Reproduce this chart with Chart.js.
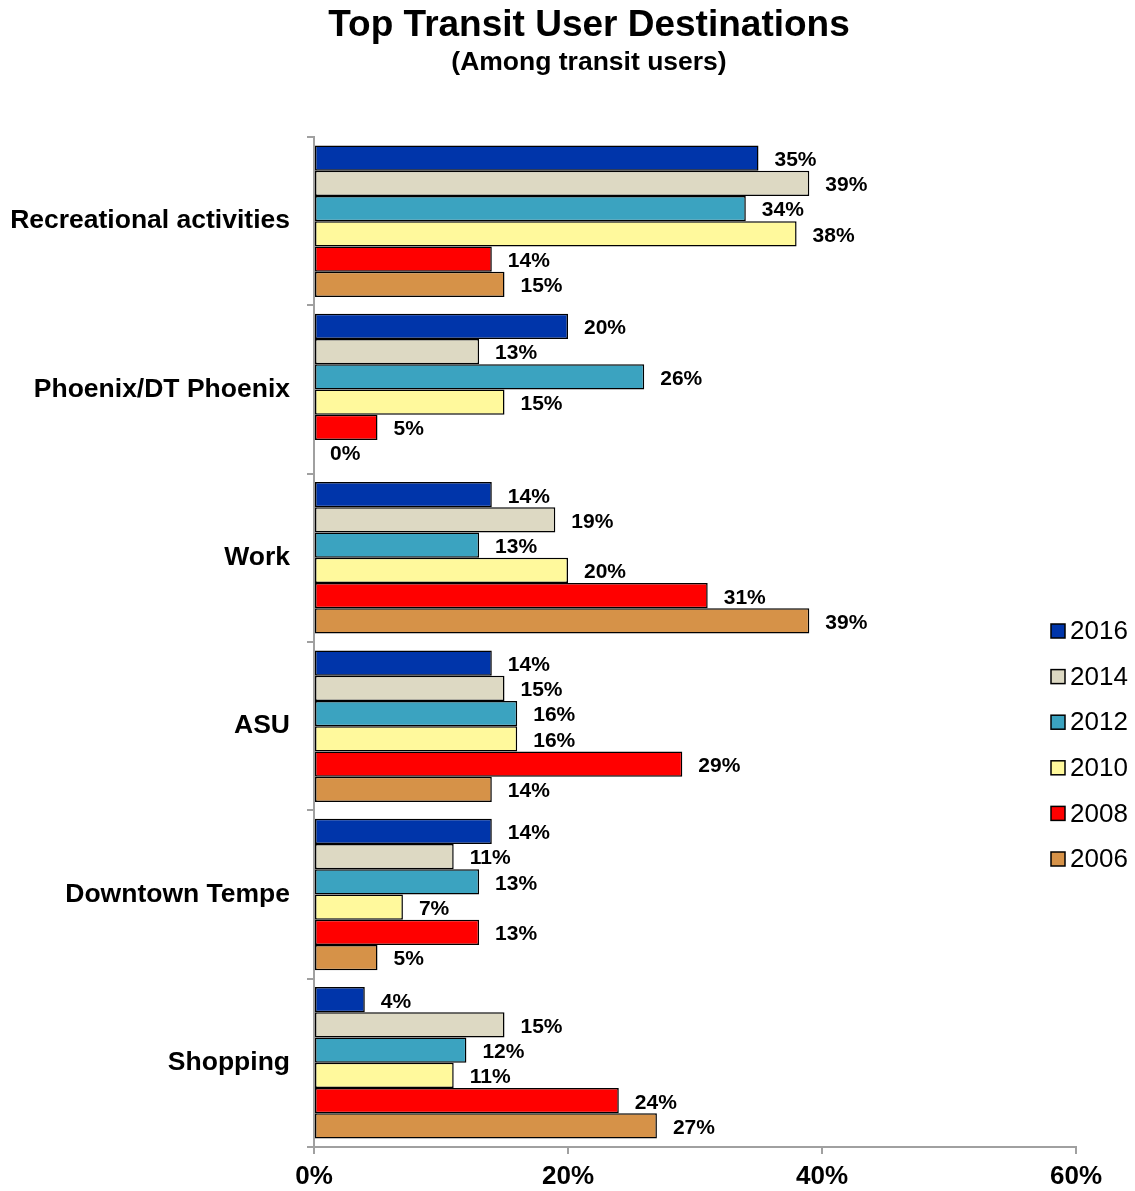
<!DOCTYPE html>
<html>
<head>
<meta charset="utf-8">
<script src="https://cdn.jsdelivr.net/npm/chart.js@4/dist/chart.umd.min.js"></script>
<style>
  html, body { margin: 0; padding: 0; background: #fff; }
  #wrap { width: 1135px; height: 1191px; }
</style>
</head>
<body>
<div id="wrap"><canvas id="destChart"></canvas></div>
<script>
const destinations = ['Recreational activities', 'Phoenix/DT Phoenix', 'Work', 'ASU', 'Downtown Tempe', 'Shopping'];
const years = ['2016', '2014', '2012', '2010', '2008', '2006'];

const pct2016 = [35, 20, 14, 14, 14, 4];
const pct2014 = [39, 13, 19, 15, 11, 15];
const pct2012 = [34, 26, 13, 16, 13, 12];
const pct2010 = [38, 15, 20, 16, 7, 11];
const pct2008 = [14, 5, 31, 29, 13, 24];
const pct2006 = [15, 0, 39, 14, 5, 27];

const xTicks = [0, 20, 40, 60];

const yearColors = ['#0035AA', '#DDD9C3', '#3BA3C0', '#FFF99C', '#FF0000', '#D69248'];
const yearValues = [pct2016, pct2014, pct2012, pct2010, pct2008, pct2006];

const titleText = 'Top Transit User Destinations';
const subtitleText = '(Among transit users)';

const font = '"Liberation Sans", Arial, sans-serif';
const axisGray = '#a0a0a0';

// title block, centred a little right of the canvas middle
const titleBlock = {
    id: 'titleBlock',
    afterDraw(chart) {
        const ctx = chart.ctx;
        ctx.save();
        ctx.fillStyle = '#000';
        ctx.textAlign = 'center';
        ctx.textBaseline = 'middle';
        ctx.font = 'bold 37px ' + font;
        ctx.fillText(titleText, 589, 26);
        ctx.font = 'bold 26.5px ' + font;
        ctx.fillText(subtitleText, 589, 63);
        ctx.restore();
    }
};

// value labels just past the end of each bar
const barLabels = {
    id: 'barLabels',
    afterDatasetsDraw(chart) {
        const ctx = chart.ctx;
        ctx.save();
        ctx.font = 'bold 21px ' + font;
        ctx.fillStyle = '#000';
        ctx.textAlign = 'left';
        ctx.textBaseline = 'middle';
        chart.data.datasets.forEach((ds, i) => {
            chart.getDatasetMeta(i).data.forEach((bar, j) => {
                ctx.fillText(ds.data[j] + '%', bar.x + 16, bar.y + 2);
            });
        });
        ctx.restore();
    }
};

// legend down the right side, over the plot
const sideLegend = {
    id: 'sideLegend',
    afterDraw(chart) {
        const ctx = chart.ctx;
        ctx.save();
        ctx.font = '26px ' + font;
        ctx.textBaseline = 'middle';
        chart.data.datasets.forEach((ds, i) => {
            const y = 631 + i * 45.6;
            ctx.fillStyle = ds.backgroundColor;
            ctx.fillRect(1051, y - 7, 14, 14);
            ctx.lineWidth = 1.5;
            ctx.strokeStyle = '#000';
            ctx.strokeRect(1051, y - 7, 14, 14);
            ctx.fillStyle = '#000';
            ctx.fillText(ds.label, 1070, y + 1);
        });
        ctx.restore();
    }
};

const datasets = years.map((yr, i) => ({
    label: yr,
    data: yearValues[i],
    backgroundColor: yearColors[i],
    borderColor: '#000',
    borderWidth: 1.5,
    borderSkipped: false,
    categoryPercentage: 0.9,
    barPercentage: 1.0
}));

const config = {
    type: 'bar',
    data: { labels: destinations, datasets: datasets },
    options: {
        indexAxis: 'y',
        responsive: true,
        maintainAspectRatio: false,
        animation: false,
        layout: { padding: { left: 0, right: 59, top: 137, bottom: 0 } },
        plugins: {
            legend: { display: false },
            tooltip: { enabled: false },
            title: { display: false }
        },
        scales: {
            x: {
                min: 0,
                max: 60,
                afterBuildTicks(scale) {
                    scale.ticks = xTicks.map(v => ({ value: v }));
                },
                afterFit(scale) { scale.height = 44; },
                grid: { drawOnChartArea: false, color: axisGray, lineWidth: 2, tickLength: 7 },
                border: { color: axisGray, width: 2 },
                ticks: {
                    color: '#000',
                    padding: 7,
                    font: { family: font, size: 26, weight: 'bold' },
                    callback: v => v + '%'
                }
            },
            y: {
                afterFit(scale) { scale.width = 314; },
                grid: { drawOnChartArea: false, offset: true, color: axisGray, lineWidth: 2, tickLength: 7 },
                border: { color: axisGray, width: 2 },
                ticks: {
                    color: '#000',
                    padding: 17,
                    font: { family: font, size: 26.5, weight: 'bold' }
                }
            }
        }
    },
    plugins: [barLabels, sideLegend, titleBlock]
};

const destChart = new Chart(document.getElementById('destChart'), config);
</script>
</body>
</html>
